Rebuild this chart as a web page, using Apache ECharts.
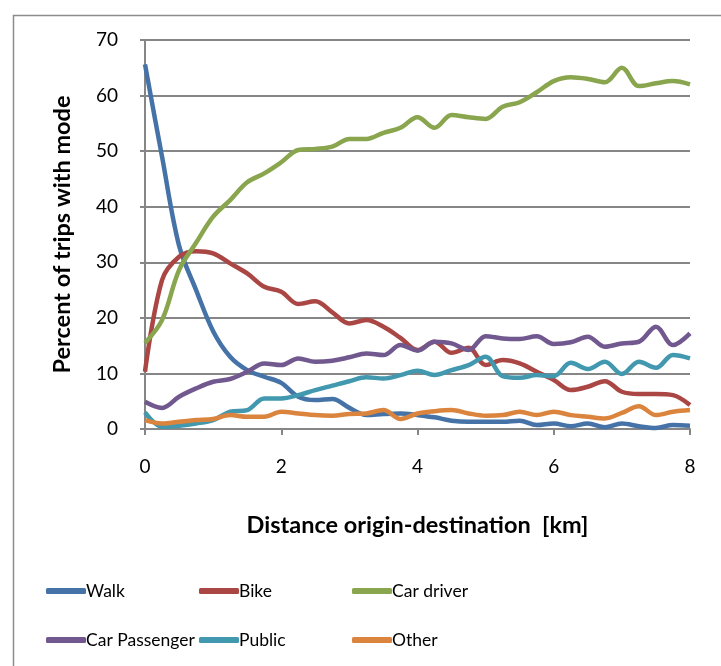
<!DOCTYPE html>
<html>
<head>
<meta charset="utf-8">
<script src="https://cdn.jsdelivr.net/npm/echarts@6/dist/echarts.min.js"></script>
<style>
  html, body { margin: 0; padding: 0; background: #fff; }
  #chart { width: 721px; height: 666px; }
</style>
</head>
<body>
<div id="chart"></div>
<script>
// distance origin-destination [km]
const distances = [0, 0.25, 0.5, 0.75, 1, 1.25, 1.5, 1.75, 2, 2.25, 2.5, 2.75, 3, 3.25, 3.5, 3.75,
  4, 4.25, 4.5, 4.75, 5, 5.25, 5.5, 5.75, 6, 6.25, 6.5, 6.75, 7, 7.25, 7.5, 7.75, 8];

// percent of trips with mode
const walk = [65.6, 49, 33, 25, 17.6, 13, 10.6, 9.4, 8.3, 5.8, 5.2, 5.4, 3.8, 2.5, 2.7, 2.8,
  2.5, 2.1, 1.5, 1.3, 1.3, 1.3, 1.5, 0.7, 1.0, 0.5, 1.0, 0.3, 1.0, 0.5, 0.2, 0.7, 0.6];
const bike = [10.3, 26.8, 31, 32, 31.6, 29.8, 28, 25.6, 24.7, 22.5, 23, 21, 19, 19.6, 18.4, 16.4,
  14.2, 15.7, 13.7, 14.6, 11.5, 12.4, 11.8, 10.3, 8.8, 7.0, 7.6, 8.6, 6.7, 6.3, 6.3, 6.1, 4.3];
const carDriver = [15.5, 19.6, 28.6, 33.5, 38.2, 41.2, 44.4, 46, 48, 50.2, 50.4, 50.8, 52.2, 52.2, 53.3, 54.2,
  56.1, 54.2, 56.5, 56.1, 55.8, 58, 58.8, 60.6, 62.6, 63.3, 63, 62.4, 65, 61.7, 62.2, 62.6, 62];
const carPassenger = [4.9, 3.8, 5.8, 7.3, 8.5, 9, 10.3, 11.8, 11.5, 12.7, 12.1, 12.3, 12.9, 13.6, 13.3, 15.1,
  14.1, 15.7, 15.4, 14.2, 16.7, 16.3, 16.2, 16.7, 15.3, 15.6, 16.6, 14.8, 15.4, 15.7, 18.4, 15.1, 17.2];
const publicTransport = [3.0, 0.4, 0.6, 1.0, 1.6, 3.1, 3.4, 5.5, 5.5, 6.1, 7, 7.8, 8.6, 9.3, 9.1, 9.7,
  10.5, 9.7, 10.6, 11.5, 13, 9.5, 9.2, 9.7, 9.5, 11.9, 10.8, 12.1, 9.9, 12.1, 11, 13.3, 12.7];
const other = [1.6, 1.0, 1.3, 1.6, 1.8, 2.5, 2.2, 2.2, 3.1, 2.8, 2.5, 2.4, 2.7, 2.8, 3.4, 1.8,
  2.8, 3.2, 3.4, 2.8, 2.4, 2.5, 3.1, 2.5, 3.1, 2.5, 2.2, 1.9, 2.9, 4.1, 2.5, 3.1, 3.4];

const seriesNames = ['Walk', 'Bike', 'Car driver', 'Car Passenger', 'Public', 'Other'];
const seriesValues = [walk, bike, carDriver, carPassenger, publicTransport, other];
const colors = ['#4572A7', '#AA4643', '#89A54E', '#71588F', '#4198AF', '#DB843D'];

const yTicks = [0, 10, 20, 30, 40, 50, 60, 70];
const xTicks = [0, 2, 4, 6, 8];

const font = 'Lato, "Open Sans", sans-serif';

const chart = echarts.init(document.getElementById('chart'));

// one legend column per pair, so the items line up like the original
function makeLegend(left, names) {
  return {
    orient: 'vertical',
    left: left,
    top: 577,
    itemWidth: 40,
    itemHeight: 6,
    itemGap: 31,
    icon: 'roundRect',
    data: names,
    textStyle: { fontFamily: font, fontSize: 17.5, color: '#000', padding: [0, 0, 0, -5] }
  };
}

chart.setOption({
  animation: false,
  color: colors,
  graphic: [{
    type: 'rect',
    left: 11,
    top: 13,
    shape: { width: 740, height: 700 },
    style: { fill: 'none', stroke: '#8c8c8c', lineWidth: 1.5 }
  }],
  grid: { left: 145, right: 31, top: 40, bottom: 237 },
  legend: [
    makeLegend(41, [seriesNames[0], seriesNames[3]]),
    makeLegend(194, [seriesNames[1], seriesNames[4]]),
    makeLegend(347, [seriesNames[2], seriesNames[5]])
  ],
  xAxis: {
    type: 'value',
    min: xTicks[0],
    max: xTicks[xTicks.length - 1],
    interval: 2,
    name: 'Distance origin-destination  [km]',
    nameLocation: 'middle',
    nameGap: 84,
    nameTextStyle: { fontFamily: font, fontSize: 23.5, fontWeight: 'bold', color: '#000' },
    axisLine: { show: true, lineStyle: { color: '#868686', width: 2 } },
    axisTick: { show: true, inside: false, length: 6, lineStyle: { color: '#868686', width: 2 } },
    axisLabel: { fontFamily: font, fontSize: 19, color: '#000', margin: 28 },
    splitLine: { show: false }
  },
  yAxis: {
    type: 'value',
    min: yTicks[0],
    max: yTicks[yTicks.length - 1],
    interval: 10,
    name: 'Percent of trips with mode',
    nameLocation: 'middle',
    nameGap: 71,
    nameTextStyle: { fontFamily: font, fontSize: 23.5, fontWeight: 'bold', color: '#000' },
    axisLine: { show: true, lineStyle: { color: '#868686', width: 2 } },
    axisTick: { show: true, length: 5, lineStyle: { color: '#868686', width: 2 } },
    axisLabel: { fontFamily: font, fontSize: 19, color: '#000', margin: 27 },
    splitLine: { show: true, lineStyle: { color: '#868686', width: 2 } }
  },
  series: seriesNames.map((name, i) => ({
    name: name,
    type: 'line',
    smooth: 0.35,
    symbol: 'none',
    lineStyle: { width: 4.5, color: colors[i] },
    itemStyle: { color: colors[i] },
    data: distances.map((d, j) => [d, seriesValues[i][j]])
  }))
});
</script>
</body>
</html>
